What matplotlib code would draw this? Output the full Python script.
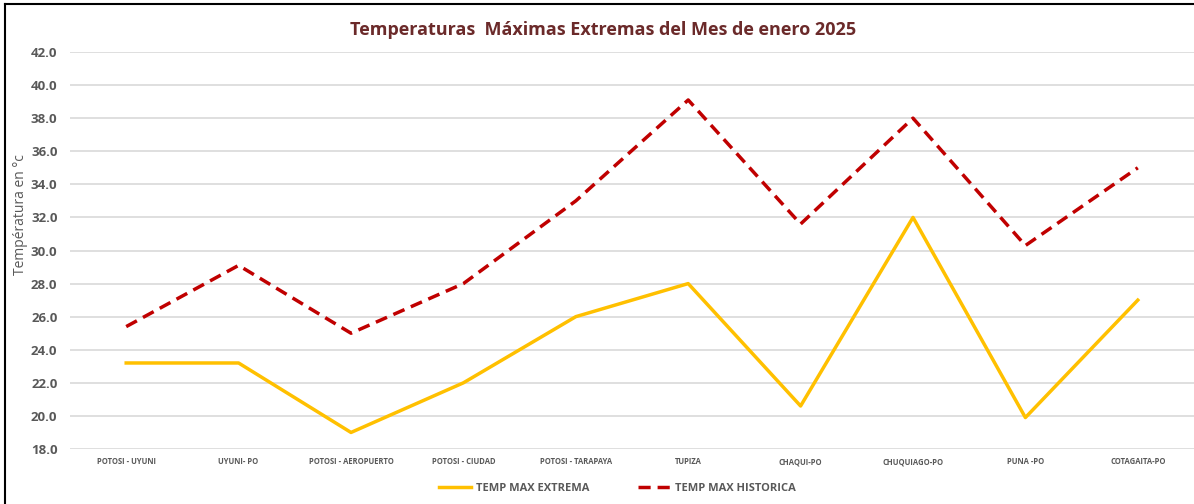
import matplotlib.pyplot as plt
from matplotlib.lines import Line2D

estaciones = ['POTOSI - UYUNI', 'UYUNI- PO', 'POTOSI - AEROPUERTO', 'POTOSI - CIUDAD',
              'POTOSI - TARAPAYA', 'TUPIZA', 'CHAQUI-PO', 'CHUQUIAGO-PO', 'PUNA -PO',
              'COTAGAITA-PO']
temp_extrema = [23.2, 23.2, 19.0, 22.0, 26.0, 28.0, 20.6, 32.0, 19.9, 27.0]
temp_historica = [25.4, 29.1, 25.0, 28.0, 33.0, 39.1, 31.6, 38.0, 30.3, 35.0]
yticks = [18 + 2 * i for i in range(13)]

plt.rcParams['font.family'] = ['Open Sans', 'DejaVu Sans']

fig = plt.figure(figsize=(11.94, 5.04), dpi=100)
ax = fig.add_axes([70 / 1194, 1 - 449 / 504, 1124 / 1194, 397 / 504])

x = list(range(len(estaciones)))
ax.plot(x, temp_extrema, color='#FFC000', lw=2.5, label='TEMP MAX EXTREMA', zorder=3)
ax.plot(x, temp_historica, color='#C00000', lw=2.5, ls=(0, (3.5, 2)),
        label='TEMP MAX HISTORICA', zorder=3)

ax.set_xlim(-0.5, len(estaciones) - 0.5)
ax.set_ylim(18, 42)
ax.set_yticks(yticks)
ax.set_yticklabels([f'{v:.1f}' for v in yticks], fontsize=9.5, fontweight='bold',
                   color='#595959')
ax.set_xticks(x)
ax.set_xticklabels(estaciones, fontsize=5.5, fontweight='bold', color='#595959')
ax.tick_params(length=0, pad=6)
ax.tick_params(axis='y', pad=9)
ax.grid(axis='y', color='#D9D9D9', lw=1.2)
for s in ax.spines.values():
    s.set_visible(False)

ax.set_ylabel('Températura en °c', fontsize=10, color='#595959')
ax.yaxis.set_label_coords(-0.037, 0.59)

fig.text(0.505, 0.94, 'Temperaturas  Máximas Extremas del Mes de enero 2025',
         ha='center', va='center', fontsize=13, fontweight='bold', color='#6B2A2A')

ax.legend(loc='center', bbox_to_anchor=(0.487, -0.1), ncol=2, frameon=False,
          handlelength=2.9, handletextpad=0.5, columnspacing=4.3,
          prop={'weight': 'bold', 'size': 8})
for t in ax.get_legend().get_texts():
    t.set_color('#595959')

fig.add_artist(Line2D([5 / 1194, 5 / 1194], [0, 1 - 4 / 504], color='black', lw=1.5))
fig.add_artist(Line2D([5 / 1194, 1], [1 - 4 / 504, 1 - 4 / 504], color='black', lw=1.5))

fig.savefig('out.png', dpi=100)
